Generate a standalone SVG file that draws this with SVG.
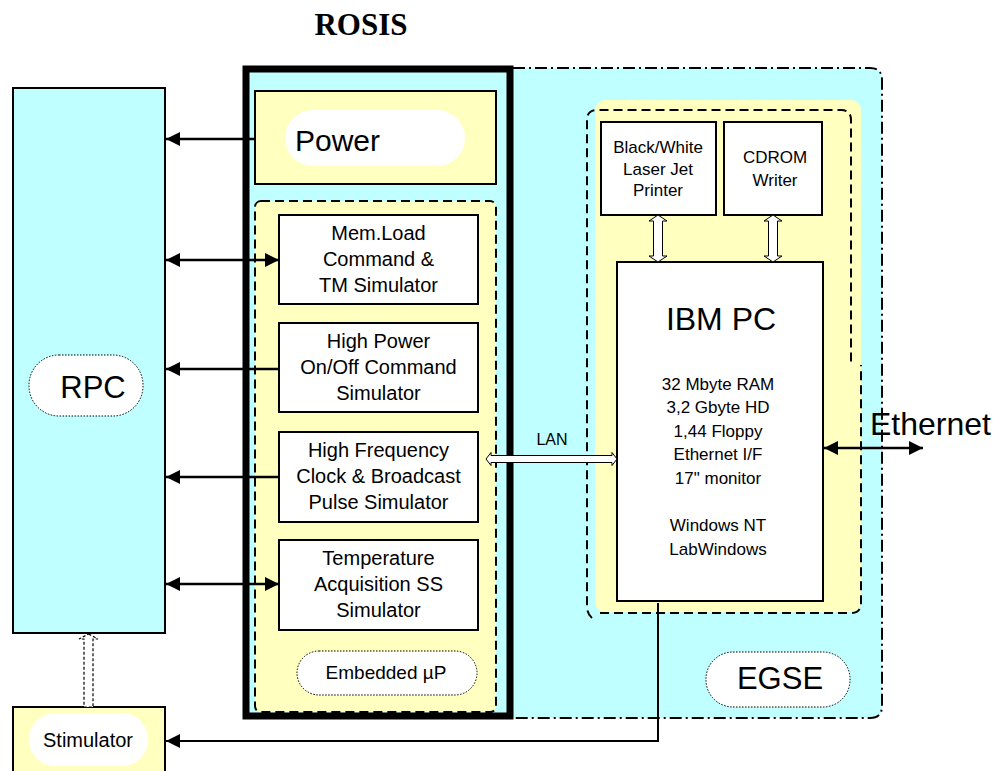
<svg xmlns="http://www.w3.org/2000/svg" width="997" height="771" viewBox="0 0 997 771">
<style>
.t{font-family:"Liberation Sans",Arial,sans-serif;fill:#000}
.c{text-anchor:middle}
.box{fill:#fff;stroke:#000;stroke-width:2}
.cyan{fill:#c0ffff}
.yel{fill:#ffffc0}
.pill{fill:#fff;stroke:#000;stroke-width:1;stroke-dasharray:1.5 1.5}
.conn{fill:none;stroke:#000;stroke-width:2.5}
.hollow{fill:#fff;stroke:#000;stroke-width:1}
</style>
<defs>
<marker id="ah" markerUnits="userSpaceOnUse" markerWidth="15" markerHeight="15" refX="14" refY="7" orient="auto-start-reverse" viewBox="0 0 15 14">
<path d="M0,0 L14,7 L0,14 Z" fill="#000"/>
</marker>
</defs>

<text class="t" x="361" y="35" text-anchor="middle" style="font-family:'Liberation Serif','Times New Roman',serif;font-weight:bold;font-size:31px">ROSIS</text>

<g id="egse">
<path class="cyan" d="M505 68 H870 Q882 68 882 80 V706 Q882 718 870 718 H505 Z"/>
<path d="M513 68 H870 Q882 68 882 80 V706 Q882 718 870 718 H513" fill="none" stroke="#000" stroke-width="2" stroke-dasharray="12 4 2 4"/>
<rect class="yel" x="595" y="100" width="266" height="512" rx="10"/>
<path d="M592 618 Q587 614 587 606 V120 Q587 110 597 110 H841 Q851 110 851 120 V365" fill="none" stroke="#000" stroke-width="2" stroke-dasharray="9 5"/>
<path d="M600 613 H851 Q861 613 861 603 V365" fill="none" stroke="#000" stroke-width="2" stroke-dasharray="9 5"/>
<rect x="706" y="652" width="144" height="55" rx="27" class="pill"/>
<text class="t c" x="780" y="689" font-size="31">EGSE</text>
</g>

<g id="rosis">
<rect class="cyan" x="246" y="69" width="264" height="647" stroke="#000" stroke-width="7"/>
</g>

<g id="power">
<rect class="yel" x="255" y="91" width="241" height="93" stroke="#000" stroke-width="2"/>
<rect x="285" y="110" width="180" height="56" rx="28" fill="#fff"/>
<text class="t" x="295" y="151" font-size="30">Power</text>
</g>

<g id="embedded">
<rect class="yel" x="255" y="201" width="241" height="511" rx="6" stroke="#000" stroke-width="2" stroke-dasharray="9 5"/>
<rect x="297" y="651" width="180" height="44" rx="22" class="pill"/>
<text class="t c" x="386" y="679" font-size="19">Embedded µP</text>
</g>

<g id="memload">
<rect class="box" x="279" y="215" width="199" height="89"/>
<text class="t c" font-size="20"><tspan x="378.5" y="240">Mem.Load</tspan><tspan x="378.5" y="266">Command &amp;</tspan><tspan x="378.5" y="292">TM Simulator</tspan></text>
</g>

<g id="highpower">
<rect class="box" x="279" y="323" width="199" height="89"/>
<text class="t c" font-size="20"><tspan x="378.5" y="348">High Power</tspan><tspan x="378.5" y="374">On/Off Command</tspan><tspan x="378.5" y="400">Simulator</tspan></text>
</g>

<g id="highfreq">
<rect class="box" x="279" y="432" width="199" height="90"/>
<text class="t c" font-size="20"><tspan x="378.5" y="457">High Frequency</tspan><tspan x="378.5" y="483">Clock &amp; Broadcast</tspan><tspan x="378.5" y="509">Pulse Simulator</tspan></text>
</g>

<g id="temperature">
<rect class="box" x="279" y="540" width="199" height="90"/>
<text class="t c" font-size="20"><tspan x="378.5" y="565">Temperature</tspan><tspan x="378.5" y="591">Acquisition SS</tspan><tspan x="378.5" y="617">Simulator</tspan></text>
</g>

<g id="rpc">
<rect class="cyan" x="13" y="88" width="152" height="545" stroke="#000" stroke-width="2"/>
<rect x="29" y="355" width="114" height="61" rx="30" class="pill"/>
<text class="t c" x="93" y="398" font-size="31">RPC</text>
</g>

<g id="stimulator">
<rect class="yel" x="13" y="707" width="152" height="70" stroke="#000" stroke-width="2"/>
<rect x="29" y="713" width="119" height="53" rx="26" fill="#fff"/>
<text class="t c" x="88" y="747" font-size="20">Stimulator</text>
</g>

<g id="printer">
<rect class="box" x="601" y="122" width="115" height="93"/>
<text class="t c" font-size="17"><tspan x="658" y="153">Black/White</tspan><tspan x="658" y="175">Laser Jet</tspan><tspan x="658" y="196">Printer</tspan></text>
</g>

<g id="cdrom">
<rect class="box" x="724" y="122" width="98" height="93"/>
<text class="t c" font-size="17"><tspan x="775" y="163">CDROM</tspan><tspan x="775" y="186">Writer</tspan></text>
</g>

<g id="ibmpc">
<rect class="box" x="617" y="262" width="206" height="339"/>
<text class="t c" x="721" y="330" font-size="32">IBM PC</text>
<text class="t c" font-size="17"><tspan x="718" y="390">32 Mbyte RAM</tspan><tspan x="718" y="413">3,2 Gbyte HD</tspan><tspan x="718" y="437">1,44 Floppy</tspan><tspan x="718" y="460">Ethernet I/F</tspan><tspan x="718" y="484">17" monitor</tspan><tspan x="718" y="531">Windows NT</tspan><tspan x="718" y="555">LabWindows</tspan></text>
</g>

<g id="connectors">
<line class="conn" x1="255" y1="139" x2="166" y2="139" marker-end="url(#ah)"/>
<line class="conn" x1="166" y1="260" x2="279" y2="260" marker-start="url(#ah)" marker-end="url(#ah)"/>
<line class="conn" x1="279" y1="369" x2="166" y2="369" marker-end="url(#ah)"/>
<line class="conn" x1="279" y1="477" x2="166" y2="477" marker-end="url(#ah)"/>
<line class="conn" x1="166" y1="584" x2="279" y2="584" marker-start="url(#ah)" marker-end="url(#ah)"/>
<line class="conn" x1="824" y1="448" x2="923" y2="448" marker-start="url(#ah)" marker-end="url(#ah)"/>
<path d="M658 603 V741 H166" fill="none" stroke="#000" stroke-width="2" marker-end="url(#ah)"/>
<polygon class="hollow" points="658,215 667,221 662.5,221 662.5,256 667,256 658,262 649,256 653.5,256 653.5,221 649,221"/>
<polygon class="hollow" points="773,215 782,221 777.5,221 777.5,256 782,256 773,262 764,256 768.5,256 768.5,221 764,221"/>
<polygon class="hollow" points="486,459 491,452.5 491,455.5 612,455.5 612,452.5 617,459 612,465.5 612,462.5 491,462.5 491,465.5"/>
<polygon points="88.5,634 98,639 93,639 93,707 84,707 84,639 79,639" fill="#fff" stroke="#000" stroke-width="1.2" stroke-dasharray="3 2"/>
<text class="t c" x="552" y="445" font-size="16">LAN</text>
<text class="t" x="870" y="435" font-size="32">Ethernet</text>
</g>
</svg>
